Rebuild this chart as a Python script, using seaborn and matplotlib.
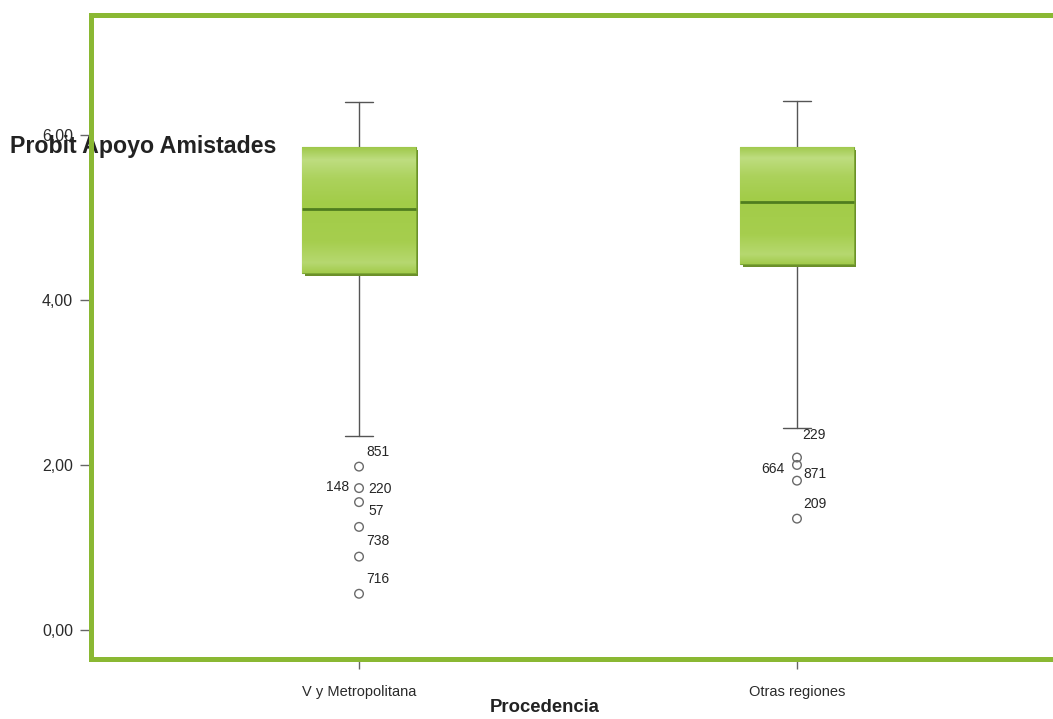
import numpy as np
import pandas as pd
import matplotlib
matplotlib.use("Agg")
import matplotlib.pyplot as plt
import matplotlib.transforms as mtransforms
from matplotlib.colors import LinearSegmentedColormap
from matplotlib.patches import Rectangle
import seaborn as sns

# ---- data -------------------------------------------------------------
groups = ["V y Metropolitana", "Otras regiones"]

whisker_low = [2.35, 2.45]
q1 = [4.33, 4.43]
median = [5.10, 5.18]
q3 = [5.85, 5.85]
whisker_high = [6.40, 6.41]

# outlying cases (value, case id) per group
outlier_values_g1 = [1.98, 1.72, 1.55, 1.25, 0.89, 0.44]
outlier_ids_g1 = ["851", "148", "220", "57", "738", "716"]
outlier_values_g2 = [2.09, 2.00, 1.81, 1.35]
outlier_ids_g2 = ["229", "664", "871", "209"]

y_ticks = [0, 2, 4, 6]
y_label = "Probit Apoyo Amistades"
x_label = "Procedencia"

# label offsets in pixels (dx, dy) relative to each outlier, and alignment
offsets_g1 = [(7, 15, "left"), (-10, 1, "right"), (9, 13, "left"),
              (9, 16, "left"), (7, 16, "left"), (7, 15, "left")]
offsets_g2 = [(5, 23, "left"), (-12, -4, "right"), (6, 7, "left"),
              (6, 15, "left")]

# ---- style ------------------------------------------------------------
sns.set_theme(style="white")
plt.rcParams["font.family"] = ["Liberation Sans", "DejaVu Sans"]

FRAME = "#8ab833"
WHISKER = "#555555"
MEDIAN = "#4f7d1f"
SHADOW = "#6b8f2a"

fig = plt.figure(figsize=(10.53, 7.19), dpi=100)
fig.patch.set_facecolor("white")
ax = fig.add_axes([91 / 1053, 60 / 719, 974 / 1053, 644 / 719])
ax.set_facecolor("white")

# outliers through seaborn on the categorical axis
out_df = pd.DataFrame({
    "Procedencia": [groups[0]] * len(outlier_values_g1) + [groups[1]] * len(outlier_values_g2),
    "valor": outlier_values_g1 + outlier_values_g2,
})
sns.stripplot(data=out_df, x="Procedencia", y="valor", order=groups, jitter=False,
              marker="o", size=6.2, color="none", edgecolor="#6a6a6a",
              linewidth=1.0, ax=ax, zorder=4)
for coll in ax.collections:
    coll.set_facecolor("none")
    coll.set_edgecolor("#6a6a6a")

# box summaries
stats = []
for i, g in enumerate(groups):
    stats.append(dict(label=g, whislo=whisker_low[i], q1=q1[i], med=median[i],
                      q3=q3[i], whishi=whisker_high[i], fliers=[]))

box_w = 0.26
bp = ax.bxp(stats, positions=[0, 1], widths=box_w, capwidths=0.065,
            patch_artist=True, showfliers=False, manage_ticks=False,
            boxprops=dict(facecolor="#a6cd52", edgecolor="#7ea935", linewidth=0.8),
            whiskerprops=dict(color=WHISKER, linewidth=1.0),
            capprops=dict(color=WHISKER, linewidth=1.0),
            medianprops=dict(color=MEDIAN, linewidth=2.0))

# shaded green fill with a drop shadow for each box
grad = LinearSegmentedColormap.from_list(
    "box", [(0.0, "#a3cb4c"), (0.08, "#b6d870"), (0.25, "#a6ce4e"),
            (0.55, "#a2cc48"), (0.75, "#acd25c"), (0.9, "#bedd80"),
            (1.0, "#9fc84a")])
shade = np.linspace(0, 1, 256).reshape(-1, 1)
for i, patch in enumerate(bp["boxes"]):
    x0, x1 = i - box_w / 2, i + box_w / 2
    shadow_tr = mtransforms.offset_copy(ax.transData, fig=fig, x=2.5, y=-3, units="dots")
    ax.add_patch(Rectangle((x0, q1[i]), box_w, q3[i] - q1[i], transform=shadow_tr,
                           facecolor=SHADOW, edgecolor="none", zorder=1.8))
    patch.set_zorder(2)
    im = ax.imshow(shade, cmap=grad, extent=[x0, x1, q1[i], q3[i]], origin="lower",
                   aspect="auto", zorder=2.1, interpolation="bilinear")
    im.set_clip_path(patch)
for m in bp["medians"]:
    m.set_zorder(3)
for w in bp["whiskers"] + bp["caps"]:
    w.set_zorder(1.5)

# case labels next to outliers
for xi, vals, ids, offs in [(0, outlier_values_g1, outlier_ids_g1, offsets_g1),
                            (1, outlier_values_g2, outlier_ids_g2, offsets_g2)]:
    for v, cid, (dx, dy, ha) in zip(vals, ids, offs):
        ax.annotate(cid, (xi, v), xytext=(dx * 0.72, dy * 0.72),
                    textcoords="offset points", ha=ha, va="center",
                    fontsize=10, color="#262626")

# axes limits and ticks
ax.set_xlim(-0.612, 1.612)
ax.set_ylim(-0.35, 7.45)
ax.set_xticks([0, 1])
ax.set_xticklabels(groups, fontsize=10.5, color="#2a2a2a")
ax.set_yticks(y_ticks)
ax.set_yticklabels([f"{t:.2f}".replace(".", ",") for t in y_ticks],
                   fontsize=11.5, color="#2a2a2a")
ax.tick_params(axis="y", which="major", direction="out", length=8, width=1,
               color="#666666", pad=5, left=True)
ax.tick_params(axis="x", which="major", direction="out", length=7, width=1,
               color="#666666", pad=12, bottom=True)

for side in ["left", "top", "bottom", "right"]:
    ax.spines[side].set_color(FRAME)
    ax.spines[side].set_linewidth(3.6)
    ax.spines[side].set_visible(True)

ax.set_xlabel(x_label, fontsize=13.3, fontweight="bold", color="#222222", va="center")
ax.xaxis.set_label_coords((545 - 91) / 974, -(708 - 659) / 644)
ax.set_ylabel(y_label, fontsize=16.7, fontweight="bold", color="#222222",
              rotation=0, ha="left", va="center")
ax.yaxis.set_label_coords((10 - 91) / 974, (659 - 147) / 644)

fig.savefig("out.png", dpi=100, facecolor="white")
